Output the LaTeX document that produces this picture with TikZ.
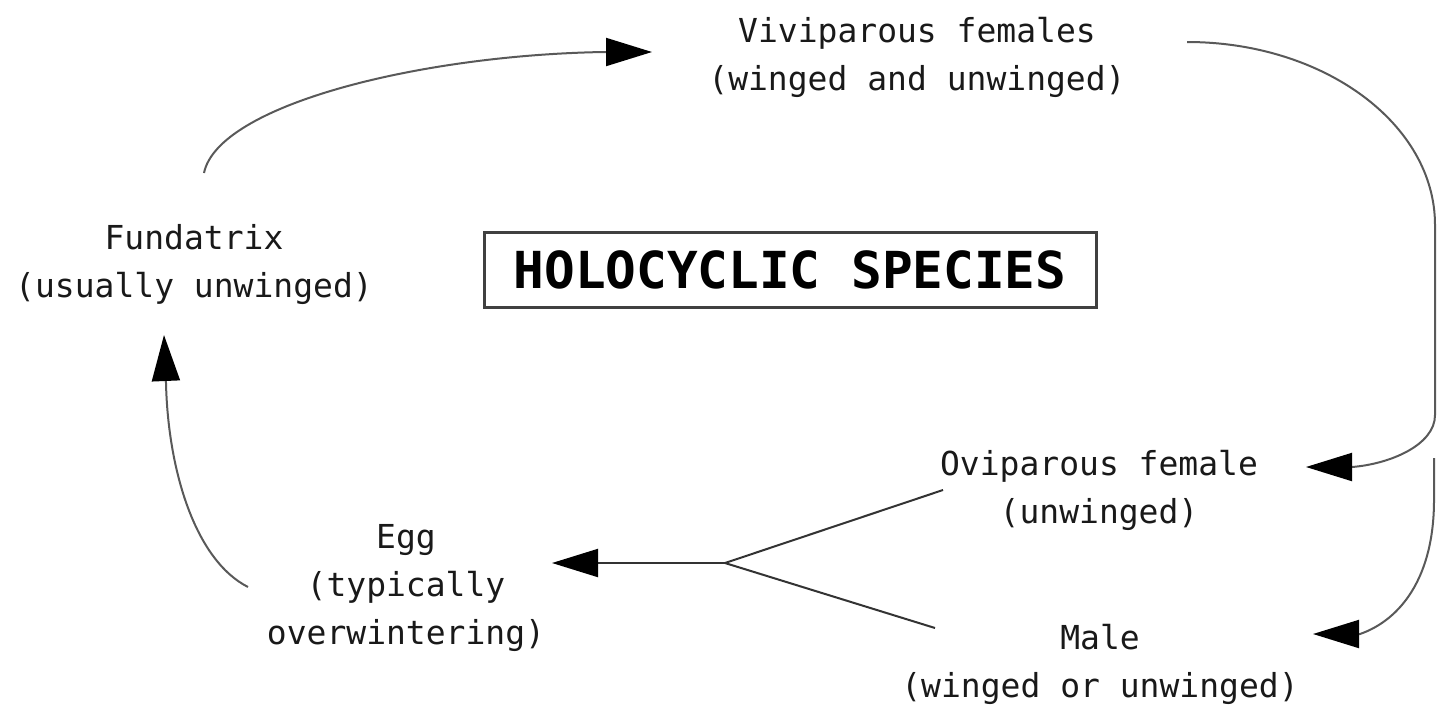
\documentclass[tikz,border=0pt]{standalone}
\usepackage{fontspec}
\newfontfamily\diagmono{DejaVu Sans Mono}
\usetikzlibrary{arrows.meta}
\begin{document}
\begin{tikzpicture}[x=1pt,y=-1pt,
  lbl/.style={font=\diagmono\fontsize{33}{48}\selectfont, align=center, text=black!90, inner sep=0pt},
  conn/.style={draw=black!65, line width=2pt},
  darkconn/.style={draw=black!80, line width=2pt},
  tipped/.style={conn, -{Triangle[length=46pt,width=28pt,color=black]}},
  titlebox/.style={draw=black!75, line width=3pt, minimum width=612pt, minimum height=75pt, inner sep=0pt, text=black,
    font=\diagmono\bfseries\fontsize{51}{60}\selectfont}
]
\useasboundingbox (0,0) rectangle (1437,713);

% nodes
\node[lbl] (viv) at (917,57) {Viviparous females\\(winged and unwinged)};
\node[lbl] (fund) at (194,265) {Fundatrix\\(usually unwinged)};
\node[titlebox] (title) at (790,270) {HOLOCYCLIC SPECIES};
\node[lbl] (ovi) at (1099,490) {Oviparous female\\(unwinged)};
\node[lbl] (male) at (1100,664) {Male\\(winged or unwinged)};
\node[lbl] (egg) at (406,588) {Egg\\(typically\\overwintering)};

% connector end points
\coordinate (fundOut) at (204,173);
\coordinate (vivIn) at (652,52);
\coordinate (vivOut) at (1187,42);
\coordinate (oviIn) at (1306,467);
\coordinate (split) at (1434,458);
\coordinate (maleIn) at (1313,634);
\coordinate (oviOut) at (943,490);
\coordinate (maleOut) at (935,628);
\coordinate (junction) at (725,563);
\coordinate (eggIn) at (552,563);
\coordinate (eggOut) at (248,587);
\coordinate (fundIn) at (164,335);

% connectors
\draw[tipped] (fundOut) .. controls (218,105) and (420,55) .. (604,52) -- (vivIn);
\draw[tipped] (vivOut) .. controls (1324,42) and (1435,124) .. (1435,225) -- (1435,415)
  .. controls (1435,445) and (1390,464) .. (1352,467) -- (oviIn);
\draw[tipped] (split) -- (1434,500) .. controls (1434,578) and (1400,620) .. (1360,634) -- (maleIn);
\draw[darkconn] (oviOut) -- (junction) -- (maleOut);
\draw[tipped, draw=black!80] (junction) -- (eggIn);
\draw[tipped] (eggOut) .. controls (195,560) and (168,470) .. (166,383) -- (fundIn);
\end{tikzpicture}
\end{document}
